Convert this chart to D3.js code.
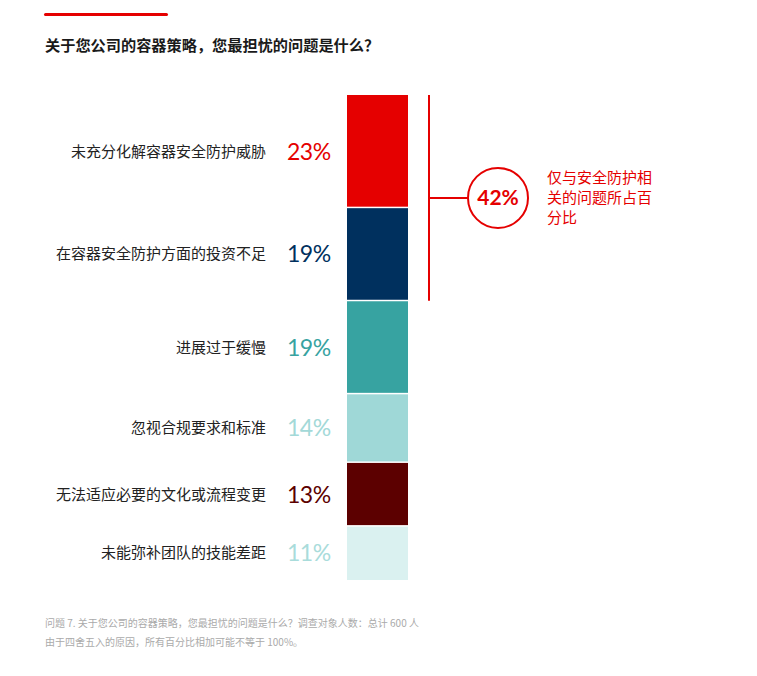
<!DOCTYPE html>
<html>
<head>
<meta charset="utf-8">
<script src="https://cdn.jsdelivr.net/npm/d3@7"></script>
<style>
  body { margin: 0; background: #fff; }
  svg { font-family: "Noto Sans CJK SC", "Noto Sans", sans-serif; }
</style>
</head>
<body>
<svg class="chart"></svg>
<script>
// data
const categories = [
  "未充分化解容器安全防护威胁",
  "在容器安全防护方面的投资不足",
  "进展过于缓慢",
  "忽视合规要求和标准",
  "无法适应必要的文化或流程变更",
  "未能弥补团队的技能差距"
];
const values = [23, 19, 19, 14, 13, 11];
const colors = ["#e50000", "#00305e", "#37a3a1", "#9fd8d7", "#5c0000", "#daf1f0"];
const textColors = ["#e50000", "#00305e", "#37a3a1", "#a3d9d8", "#5c0000", "#a9dcdb"];
const securityShare = 42;

const width = 757, height = 676;

const chart = d3.select(".chart")
  .attr("width", width)
  .attr("height", height);

// running totals for stacking
let acc = 0;
const stack = values.map((v, i) => {
  const s = { name: categories[i], value: v, y0: acc, y1: acc + v, i: i };
  acc += v;
  return s;
});

// vertical scale from the total
const y = d3.scaleLinear()
  .domain([0, d3.sum(values)])
  .range([95, 580]);

const barX = 347, barW = 61;

// top accent line and title
chart.append("rect")
  .attr("x", 44).attr("y", 13).attr("width", 124).attr("height", 3)
  .attr("rx", 1.5)
  .attr("fill", "#e50000");

chart.append("text")
  .attr("x", 45).attr("y", 51)
  .attr("font-size", 15.2)
  .attr("font-weight", 700)
  .attr("fill", "#1a1a1a")
  .text("关于您公司的容器策略，您最担忧的问题是什么？");

// bar segments
const seg = chart.selectAll("g.seg")
  .data(stack)
  .enter()
  .append("g")
  .attr("class", "seg");

seg.append("rect")
  .attr("x", barX)
  .attr("y", d => y(d.y0) + (d.i > 0 ? 0.5 : 0))
  .attr("width", barW)
  .attr("height", d => y(d.y1) - y(d.y0) - (d.i > 0 ? 0.5 : 0) - (d.i < stack.length - 1 ? 1 : 0))
  .attr("fill", (d, i) => colors[i]);

// category labels, right aligned
seg.append("text")
  .attr("x", 266)
  .attr("y", d => (y(d.y0) + y(d.y1)) / 2)
  .attr("dy", "0.35em")
  .attr("text-anchor", "end")
  .attr("font-size", 15)
  .attr("fill", "#222")
  .text(d => d.name);

// percentages
seg.append("text")
  .attr("x", 287)
  .attr("y", d => (y(d.y0) + y(d.y1)) / 2)
  .attr("dy", "0.36em")
  .attr("font-family", "Lato, 'Open Sans', sans-serif")
  .attr("font-size", 23)
  .attr("letter-spacing", -0.5)
  .attr("fill", (d, i) => textColors[i])
  .text(d => d.value + "%");

// bracket over the security-related share
const bx = 429;
const midY = (y(0) + y(securityShare)) / 2;
chart.append("line")
  .attr("x1", bx).attr("x2", bx)
  .attr("y1", y(0)).attr("y2", y(securityShare))
  .attr("stroke", "#e50000").attr("stroke-width", 2);

chart.append("line")
  .attr("x1", bx).attr("x2", 468)
  .attr("y1", midY).attr("y2", midY)
  .attr("stroke", "#e50000").attr("stroke-width", 2);

chart.append("circle")
  .attr("cx", 498).attr("cy", midY).attr("r", 30)
  .attr("fill", "#fff")
  .attr("stroke", "#e50000").attr("stroke-width", 2);

chart.append("text")
  .attr("x", 498).attr("y", midY)
  .attr("dy", "0.36em")
  .attr("text-anchor", "middle")
  .attr("font-family", "Lato, 'Open Sans', sans-serif")
  .attr("font-size", 21)
  .attr("font-weight", 700)
  .attr("fill", "#e50000")
  .text(securityShare + "%");

const note = ["仅与安全防护相", "关的问题所占百", "分比"];
chart.append("g")
  .selectAll("text")
  .data(note)
  .enter()
  .append("text")
  .attr("x", 547)
  .attr("y", (d, i) => 178 + i * 20)
  .attr("dy", "0.35em")
  .attr("font-size", 15)
  .attr("fill", "#e50000")
  .text(d => d);

// footnote
const foot = [
  "问题 7. 关于您公司的容器策略，您最担忧的问题是什么？调查对象人数：总计 600 人",
  "由于四舍五入的原因，所有百分比相加可能不等于 100%。"
];
chart.append("g")
  .selectAll("text")
  .data(foot)
  .enter()
  .append("text")
  .attr("x", 45)
  .attr("y", (d, i) => 623 + i * 19)
  .attr("dy", "0.35em")
  .attr("font-size", 10)
  .attr("fill", "#aaa")
  .text(d => d);
</script>
</body>
</html>
